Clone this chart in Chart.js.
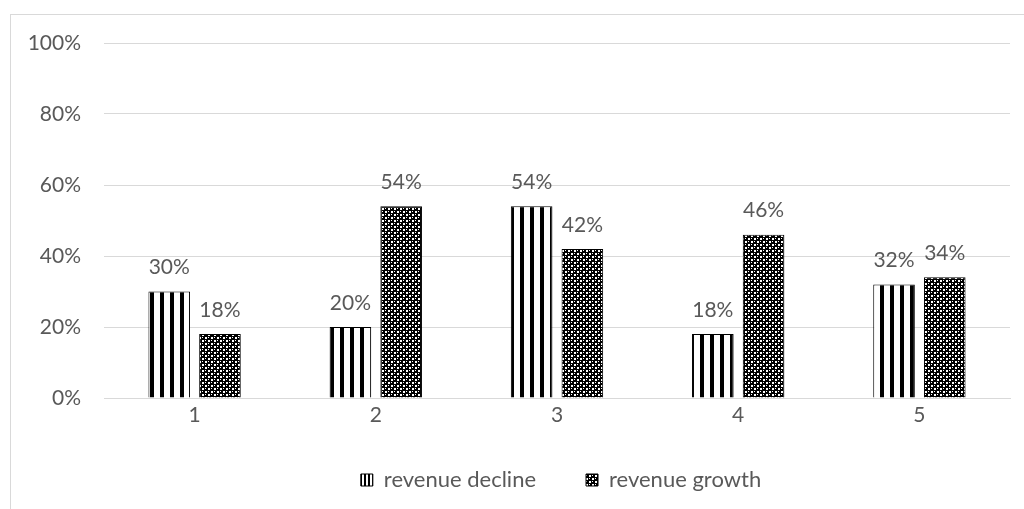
<!DOCTYPE html>
<html>
<head>
<meta charset="utf-8">
<script src="https://cdn.jsdelivr.net/npm/chart.js@4.4.1/dist/chart.umd.min.js"></script>
<style>
  html, body { margin: 0; padding: 0; background: #fff; }
  #wrap { position: absolute; left: 0; top: 0; width: 1024px; height: 509px; }
</style>
</head>
<body>
<div id="wrap"><canvas id="revChart"></canvas></div>
<script>
const categories = ['1', '2', '3', '4', '5'];
const declineValues = [30, 20, 54, 18, 32];
const growthValues = [18, 54, 42, 46, 34];
const seriesNames = ['revenue decline', 'revenue growth'];

const textColor = '#595959';
const gridColor = '#d9d9d9';
const fontFamily = 'Lato, "Open Sans", sans-serif';

// vertical stripes (period = w, black part = b)
function stripePattern(w, b) {
    const c = document.createElement('canvas');
    c.width = w; c.height = 10;
    const g = c.getContext('2d');
    g.fillStyle = '#fff';
    g.fillRect(0, 0, w, 10);
    g.fillStyle = '#000';
    g.fillRect(0, 0, b, 10);
    return g.createPattern(c, 'repeat');
}

// dense check / dotted grid
function checkPattern() {
    const c = document.createElement('canvas');
    c.width = 6; c.height = 6;
    const g = c.getContext('2d');
    g.fillStyle = '#000';
    g.fillRect(0, 0, 6, 6);
    g.fillStyle = '#fff';
    g.fillRect(1, 1, 2, 2);
    g.fillRect(4, 4, 2, 2);
    g.fillRect(4, 1, 1, 1);
    g.fillRect(1, 4, 1, 1);
    return g.createPattern(c, 'repeat');
}

const barStripes = stripePattern(10, 4);
const legendStripes = stripePattern(4, 2);

// outer frame of the chart
const framePlugin = {
    id: 'frame',
    beforeDraw(chart) {
        const ctx = chart.ctx;
        ctx.save();
        ctx.strokeStyle = gridColor;
        ctx.lineWidth = 1;
        ctx.strokeRect(10.5, 14.5, 1040, 600);
        ctx.restore();
    }
};

// move the legend row up a bit and to the right
const legendShift = {
    id: 'legendShift',
    afterLayout(chart) {
        const lg = chart.legend;
        lg.top -= 8;
        lg.bottom -= 8;
        lg.left += 56;
        lg.right += 56;
    }
};

// value labels on top of each bar
const valueLabels = {
    id: 'valueLabels',
    afterDatasetsDraw(chart) {
        const ctx = chart.ctx;
        ctx.save();
        ctx.fillStyle = textColor;
        ctx.font = '21px ' + fontFamily;
        ctx.textAlign = 'center';
        ctx.textBaseline = 'middle';
        chart.data.datasets.forEach((ds, i) => {
            chart.getDatasetMeta(i).data.forEach((bar, j) => {
                ctx.fillText(ds.data[j] + '%', bar.x, bar.y - 24);
            });
        });
        ctx.restore();
    }
};

new Chart(document.getElementById('revChart'), {
    type: 'bar',
    data: {
        labels: categories,
        datasets: [{
            label: seriesNames[0],
            data: declineValues,
            backgroundColor: barStripes,
            borderColor: '#000',
            borderWidth: 1
        }, {
            label: seriesNames[1],
            data: growthValues,
            backgroundColor: checkPattern(),
            borderColor: '#000',
            borderWidth: 1
        }]
    },
    options: {
        responsive: true,
        maintainAspectRatio: false,
        animation: false,
        categoryPercentage: 0.56,
        barPercentage: 0.82,
        layout: { padding: { top: 43, right: 14, left: 0, bottom: 0 } },
        plugins: {
            tooltip: { enabled: false },
            legend: {
                position: 'bottom',
                labels: {
                    color: textColor,
                    font: { family: fontFamily, size: 22 },
                    boxWidth: 12,
                    boxHeight: 12,
                    padding: 50,
                    generateLabels(chart) {
                        const items = Chart.defaults.plugins.legend.labels.generateLabels(chart);
                        // finer stripes so the small swatch still reads as striped
                        items[0].fillStyle = legendStripes;
                        return items;
                    }
                }
            }
        },
        scales: {
            x: {
                afterFit(scale) { scale.height = 29; },
                grid: { display: false },
                border: { color: gridColor },
                ticks: { color: textColor, font: { family: fontFamily, size: 21 }, padding: -3 }
            },
            y: {
                min: 0,
                max: 100,
                afterFit(scale) { scale.width = 104; },
                grid: { color: gridColor, drawTicks: false },
                border: { display: false },
                ticks: {
                    stepSize: 20,
                    padding: 23,
                    color: textColor,
                    font: { family: fontFamily, size: 21 },
                    callback: v => v + '%'
                }
            }
        }
    },
    plugins: [framePlugin, legendShift, valueLabels]
});
</script>
</body>
</html>
